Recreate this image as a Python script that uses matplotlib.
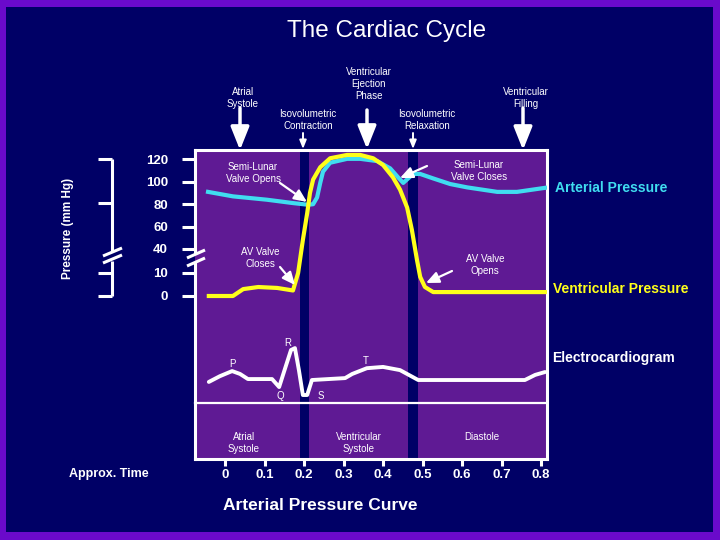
import matplotlib
matplotlib.use('Agg')
import numpy as np
import matplotlib.pyplot as plt
from matplotlib.patches import Rectangle, Polygon

plt.rcParams['font.family'] = ['Liberation Sans', 'DejaVu Sans']

NAVY = '#000066'
FRAME = '#6A0ACB'
PANEL = '#5F1A94'
YELLOW = '#FFFF1A'
CYAN = '#40DDF0'

# time axis (s)
time_ticks = [0, 0.1, 0.2, 0.3, 0.4, 0.5, 0.6, 0.7, 0.8]
time_labels = ['0', '0.1', '0.2', '0.3', '0.4', '0.5', '0.6', '0.7', '0.8']
iso_bands = [(0.190, 0.213), (0.463, 0.489)]   # isovolumetric phases

# pressure axis (mm Hg, broken between 10 and 40)
pressure_ticks = [0, 10, 40, 60, 80, 100, 120]

# ventricular pressure
vent_t = [-0.041, 0.020, 0.046, 0.084, 0.132, 0.172, 0.185, 0.197, 0.208, 0.215,
          0.223, 0.241, 0.266, 0.309, 0.342, 0.375, 0.400, 0.425, 0.443, 0.461,
          0.473, 0.486, 0.494, 0.506, 0.527, 0.544, 0.810]
vent_p = [0, 0, 3.0, 3.9, 3.5, 2.4, 10, 48, 72, 90,
          102, 113, 121, 124, 124, 121, 115, 104, 93, 77,
          57, 26, 8.3, 3.9, 1.7, 1.7, 1.7]

# arterial pressure
art_t = [-0.043, 0.020, 0.106, 0.172, 0.210, 0.223, 0.233, 0.241, 0.248, 0.266,
         0.309, 0.342, 0.385, 0.418, 0.438, 0.451, 0.476, 0.494, 0.527, 0.570,
         0.613, 0.689, 0.739, 0.810]
art_p = [91, 87, 84, 81, 79.5, 80, 86, 99, 109, 117,
         120.5, 120.5, 118.5, 112, 104, 99, 107, 107, 103, 98,
         95, 91, 91, 94.6]

# electrocardiogram (mV)
ecg_t = [-0.041, -0.013, 0.018, 0.038, 0.058, 0.119, 0.137, 0.154, 0.167, 0.177,
         0.187, 0.197, 0.208, 0.220, 0.304, 0.322, 0.359, 0.400, 0.443, 0.489,
         0.759, 0.785, 0.810]
ecg_mv = [-0.06, 0.12, 0.28, 0.19, 0.03, 0.03, -0.22, 0.44, 0.94, 1.0,
          0.31, -0.47, -0.47, 0.0, 0.06, 0.19, 0.37, 0.41, 0.31, 0.0,
          0.0, 0.16, 0.25]

phase_names = ['Atrial\nSystole', 'Ventricular\nSystole', 'Diastole']
phase_mid = [0.048, 0.339, 0.651]

T_MIN, T_MAX = -0.076, 0.815


def fig_rect(x0, y0, x1, y1):
    return [x0 / 720, 1 - y1 / 540, (x1 - x0) / 720, (y1 - y0) / 540]


p_knots = [-100, 0, 10, 40, 200]
g_knots = [-230, 0, 23, 47, 226.2]


def fwd(p):
    return np.interp(p, p_knots, g_knots)


def inv(g):
    return np.interp(g, g_knots, p_knots)


fig = plt.figure(figsize=(7.2, 5.4), dpi=100)
fig.patch.set_facecolor(FRAME)
fig.add_artist(Rectangle((6 / 720, 8 / 540), 707 / 720, 525 / 540,
                         transform=fig.transFigure, facecolor=NAVY,
                         edgecolor='none', zorder=0))

# main purple panel with time axis
panel = fig.add_axes(fig_rect(195, 150, 547, 459))
panel.set_facecolor(PANEL)
panel.set_xlim(T_MIN, T_MAX)
panel.set_ylim(0, 1)
for a, b in iso_bands:
    panel.axvspan(a, b, color=NAVY, lw=0)
for s in panel.spines.values():
    s.set_color('white')
    s.set_linewidth(2.2)
panel.set_yticks([])
panel.set_xticks(time_ticks, time_labels, fontweight='bold')
panel.tick_params(axis='x', direction='out', length=5, width=2.2,
                  color='white', labelcolor='white', labelsize=9.5, pad=2)
for name, t in zip(phase_names, phase_mid):
    panel.text(t, 0.088, name, ha='center', va='top', fontsize=7,
               color='white', linespacing=1.25,
               transform=panel.get_xaxis_transform())

# pressure curves
pax = fig.add_axes(fig_rect(195, 150, 547, 310))
pax.set_facecolor('none')
pax.set_yscale('function', functions=(fwd, inv))
pax.set_xlim(T_MIN, T_MAX)
pax.set_ylim(-6.09, 128.39)
for s in pax.spines.values():
    s.set_visible(False)
pax.set_xticks([])
pax.set_yticks(pressure_ticks, [str(v) for v in pressure_ticks], fontweight='bold')
pax.yaxis.set_minor_locator(matplotlib.ticker.NullLocator())
pax.tick_params(axis='y', direction='out', length=9.4, width=2.2,
                color='white', labelcolor='white', labelsize=9.5, pad=10)
pax.plot(art_t, art_p, color=CYAN, lw=3, solid_joinstyle='round')
pax.plot(vent_t, vent_p, color=YELLOW, lw=3, solid_joinstyle='round')

# ECG
eax = fig.add_axes(fig_rect(195, 335, 547, 403))
eax.set_facecolor('none')
eax.set_xlim(T_MIN, T_MAX)
eax.set_ylim(-0.72, 1.41)
for k, s in eax.spines.items():
    s.set_visible(k == 'bottom')
eax.spines['bottom'].set_color('white')
eax.spines['bottom'].set_linewidth(1.6)
eax.set_xticks([])
eax.set_yticks([])
eax.plot(ecg_t, ecg_mv, color='white', lw=2.8, solid_joinstyle='round',
         solid_capstyle='round')

# overlay for labels and arrows (pixel coordinates)
ov = fig.add_axes([0, 0, 1, 1])
ov.set_facecolor('none')
ov.set_xlim(0, 720)
ov.set_ylim(540, 0)
ov.axis('off')

ov.text(387, 31, 'The Cardiac Cycle', ha='center', va='center',
        fontsize=17.5, color='white')

small = dict(ha='center', va='center', fontsize=7, color='white', linespacing=1.2)
for txt, x, y in [('Atrial\nSystole', 243, 98),
                  ('Ventricular\nEjection\nPhase', 369, 84),
                  ('Ventricular\nFilling', 526, 98),
                  ('Isovolumetric\nContraction', 308, 120),
                  ('Isovolumetric\nRelaxation', 427, 120),
                  ('Semi-Lunar\nValve Opens', 253, 173),
                  ('Semi-Lunar\nValve Closes', 479, 171),
                  ('AV Valve\nCloses', 260, 258),
                  ('AV Valve\nOpens', 485, 265),
                  ('P', 232, 364), ('R', 288, 343), ('Q', 280, 396),
                  ('S', 321, 396), ('T', 366, 361)]:
    ov.text(x, y, txt, **small)

big = dict(arrowstyle='-|>,head_length=0.7,head_width=0.28', mutation_scale=20,
           lw=2.5, color='white', shrinkA=0, shrinkB=0)
for x, y0, y1 in [(240, 108, 150), (367, 110, 149), (523, 108, 150)]:
    ov.annotate('', xy=(x, y1), xytext=(x, y0), arrowprops=big)

tiny = dict(arrowstyle='-|>,head_length=0.25,head_width=0.1', mutation_scale=20,
            lw=1.4, color='white', shrinkA=0, shrinkB=0)
for x in [303, 413]:
    ov.annotate('', xy=(x, 149), xytext=(x, 133), arrowprops=tiny)

diag = dict(arrowstyle='-|>,head_length=0.38,head_width=0.17', mutation_scale=20,
            lw=1.6, color='white', shrinkA=0, shrinkB=0)
for x0, y0, x1, y1 in [(280, 183, 307, 202), (427, 166, 400, 178),
                       (280, 267, 295, 285), (452, 271, 426, 283)]:
    ov.annotate('', xy=(x1, y1), xytext=(x0, y0), arrowprops=diag)

ov.text(555, 188, 'Arterial Pressure', ha='left', va='center', fontsize=10,
        fontweight='bold', color=CYAN)
ov.text(553, 289, 'Ventricular Pressure', ha='left', va='center', fontsize=10,
        fontweight='bold', color=YELLOW)
ov.text(552, 358, 'Electrocardiogram', ha='left', va='center', fontsize=10,
        fontweight='bold', color='white')
ov.text(69, 474, 'Approx. Time', ha='left', va='center', fontsize=9,
        fontweight='bold', color='white')
ov.text(320, 505, 'Arterial Pressure Curve', ha='center', va='center',
        fontsize=12.5, fontweight='bold', color='white')
ov.text(68, 228, 'Pressure (mm Hg)', ha='center', va='center', rotation=90,
        fontsize=8.5, fontweight='bold', color='white')

# outer bracket with break
line = dict(color='white', lw=2.2, solid_capstyle='butt')
ov.plot([112, 112], [159, 251], **line)
ov.plot([112, 112], [261, 296], **line)
for y in [159, 203, 273, 296]:
    ov.plot([98, 112], [y, y], **line)
ov.plot([103, 122], [256, 248], **line)
ov.plot([103, 122], [263, 255], **line)

# break marks on the pressure axis
ov.add_patch(Polygon([(187, 258), (195, 254.4), (195, 262.4), (187, 266)],
                     closed=True, facecolor=NAVY, edgecolor='none'))
ov.add_patch(Polygon([(195, 254.4), (205, 250), (205, 258), (195, 262.4)],
                     closed=True, facecolor=PANEL, edgecolor='none'))
ov.plot([187, 205], [258, 250], **line)
ov.plot([187, 205], [266, 258], **line)

fig.savefig('out.png', dpi=100, facecolor=fig.get_facecolor())
